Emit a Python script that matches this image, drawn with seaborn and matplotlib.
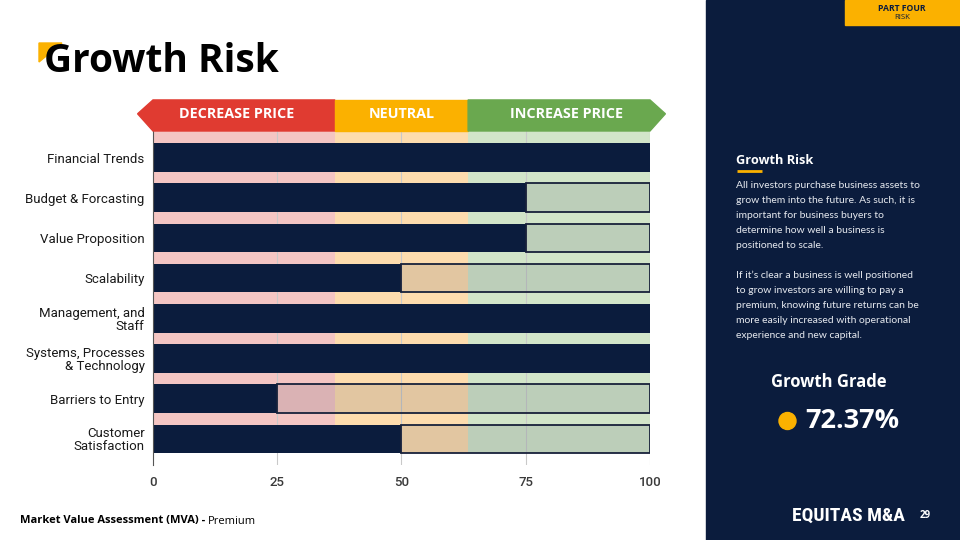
import matplotlib
matplotlib.use("Agg")
import matplotlib.pyplot as plt
import matplotlib.transforms as mtransforms
from matplotlib.patches import Polygon, Rectangle, Circle
import seaborn as sns
import pandas as pd
import numpy as np

# ---------------- data ----------------
categories = ["Financial Trends", "Budget & Forcasting", "Value Proposition", "Scalability",
              "Management, and\nStaff", "Systems, Processes\n& Technology", "Barriers to Entry",
              "Customer\nSatisfaction"]
scores = [100, 75, 75, 50, 100, 100, 25, 50]
zone_labels = ["DECREASE PRICE", "NEUTRAL", "INCREASE PRICE"]
zone_starts = [0, 36.6, 63.4]
zone_ends = [36.6, 63.4, 100]
x_ticks = [0, 25, 50, 75, 100]
grade_label = "Growth Grade"
grade_value = "72.37%"
title = "Growth Risk"
panel_title = "Growth Risk"
panel_text = ["All investors purchase business assets to",
              "grow them into the future. As such, it is",
              "important for business buyers to",
              "determine how well a business is",
              "positioned to scale.",
              "",
              "If it\u2019s clear a business is well positioned",
              "to grow investors are willing to pay a",
              "premium, knowing future returns can be",
              "more easily increased with operational",
              "experience and new capital."]

# ---------------- style ----------------
sns.set_theme(style="white")
plt.rcParams["font.family"] = ["Roboto", "DejaVu Sans"]

navy = "#0b1c3d"
band_colors = ["#f4c5c3", "#fddcae", "#d2e5c9"]
zone_colors = ["#e03b31", "#fbb100", "#6aa84f"]
yellow = "#fbb100"
HEAD = ["Open Sans", "DejaVu Sans"]
BODY = ["Lato", "DejaVu Sans"]

W, H = 960, 540
fig = plt.figure(figsize=(9.6, 5.4), dpi=100)

# decoration layer in pixel coordinates
deco = fig.add_axes([0, 0, 1, 1], zorder=0)
deco.set_xlim(0, W)
deco.set_ylim(H, 0)
deco.axis("off")

# right navy panel
deco.add_patch(Rectangle((706, 0), 254, 540, color=navy, zorder=1))
deco.add_patch(Rectangle((845, 0), 115, 25, color=yellow, zorder=2))
deco.text(902, 8.5, "PART FOUR", family=HEAD, fontsize=6.2, weight="bold", color=navy,
          ha="center", va="center", zorder=3)
deco.text(902, 17.5, "RISK", family=HEAD, fontsize=5.6, color=navy, ha="center", va="center", zorder=3)

deco.text(736, 160, panel_title, family=HEAD, fontsize=9.2, weight="bold", color="white",
          ha="left", va="center", zorder=3)
deco.plot([737, 762], [171, 171], color=yellow, lw=2, zorder=3, solid_capstyle="butt")
for i, line in enumerate(panel_text):
    deco.text(736, 186 + i * 14.9, line, family=BODY, fontsize=7.5, color="#e6e9ef",
              ha="left", va="center", zorder=3)

deco.text(829, 382, grade_label, family=HEAD, fontsize=12, weight="bold", color="white",
          ha="center", va="center", zorder=3)
deco.add_patch(Circle((787.5, 421), 8.5, color=yellow, zorder=3))
deco.text(805, 421, grade_value, family=HEAD, fontsize=19.5, weight="bold", color="white",
          ha="left", va="center", zorder=3)

deco.text(848, 516, "EQUITAS M&A", family=["Roboto Condensed", "Liberation Sans Narrow", "Roboto"],
          fontsize=14, weight="bold", color="white", ha="center", va="center", zorder=3)
deco.text(925, 515, "29", family=HEAD, fontsize=7, weight="bold", color="white",
          ha="center", va="center", zorder=3)

# title with yellow accent
deco.add_patch(Polygon([(39, 43), (62, 43), (39, 62)], closed=True, color=yellow, zorder=2))
deco.text(44, 62, title, family=HEAD, fontsize=28, weight="bold", color="black",
          ha="left", va="center", zorder=3)

# footer
t1 = deco.text(20, 521, "Market Value Assessment (MVA) - ", family=HEAD, fontsize=8,
               weight="bold", color="black", ha="left", va="center", zorder=3)
fig.canvas.draw()
bb = t1.get_window_extent()
x_end = bb.x1 * W / fig.bbox.width
deco.text(x_end, 521, "Premium", family=HEAD, fontsize=8, color="black",
          ha="left", va="center", zorder=3)

# ---------------- main chart ----------------
ax = fig.add_axes([153 / W, 1 - 465 / H, (650 - 153) / W, (465 - 131) / H], zorder=2)
ax.patch.set_alpha(0)

n = len(categories)
band_top, band_bot = -0.66, n - 1 + 0.355
for s, e, c in zip(zone_starts, zone_ends, band_colors):
    ax.barh((band_top + band_bot) / 2, e - s, left=s, height=band_bot - band_top,
            color=c, edgecolor="none", linewidth=0, zorder=0)

for xt in x_ticks[1:]:
    ax.axvline(xt, color="#c9c9c9", lw=0.8, zorder=0.5)

df = pd.DataFrame({"category": categories, "score": scores})
sns.barplot(data=df, x="score", y="category", orient="h", color=navy, width=0.71,
            saturation=1, ax=ax, zorder=2, linewidth=0, edgecolor=navy)

rem = [100 - v for v in scores]
ypos = np.arange(n)
mask = [r > 0 for r in rem]
ax.barh(ypos[mask], np.array(rem)[mask], left=np.array(scores)[mask], height=0.71,
        color=(11 / 255, 28 / 255, 61 / 255, 0.11), edgecolor="#18213a", linewidth=1.3,
        zorder=3)

ax.set_xlim(0, 100)
ax.set_ylim(n - 1 + 0.65, -0.66)
ax.set_xticks(x_ticks)
ax.set_xticklabels([str(v) for v in x_ticks], fontsize=9.5, color="#3a3a3a", weight="medium")
ax.set_yticks(ypos)
ax.set_yticklabels(categories, fontsize=9.5, color="#1a1a1a", linespacing=1.0)
ax.tick_params(axis="both", length=0)
ax.tick_params(axis="x", pad=8)
ax.tick_params(axis="y", pad=6)
ax.set_xlabel("")
ax.set_ylabel("")
for sp in ["top", "right", "bottom"]:
    ax.spines[sp].set_visible(False)
ax.spines["left"].set_color("#555555")
ax.spines["left"].set_linewidth(0.8)
ax.grid(False)

# header arrow zones (x in data units, y in axes fraction)
tr = mtransforms.blended_transform_factory(ax.transData, ax.transAxes)
y0, y1 = 1.0, 1.093
ym = (y0 + y1) / 2
tip = 3.1
for i, (s, e, c, lab) in enumerate(zip(zone_starts, zone_ends, zone_colors, zone_labels)):
    if i == 0:
        pts = [(s - tip, ym + 0.005), (s, y1), (e, y1), (e, y0), (s, y0)]
        cx = (s - tip + e) / 2
    elif i == len(zone_labels) - 1:
        pts = [(s, y0), (s, y1), (e, y1), (e + tip, ym + 0.005), (e, y0)]
        cx = (s + e + tip) / 2
    else:
        pts = [(s, y0), (s, y1), (e, y1), (e, y0)]
        cx = (s + e) / 2
    ax.add_patch(Polygon(pts, closed=True, color=c, transform=tr, clip_on=False, zorder=5))
    ax.text(cx, ym + 0.003, lab, family=HEAD, fontsize=10.4, weight="bold", color="white",
            ha="center", va="center", transform=tr, zorder=6)

fig.savefig("out.png", dpi=100)
